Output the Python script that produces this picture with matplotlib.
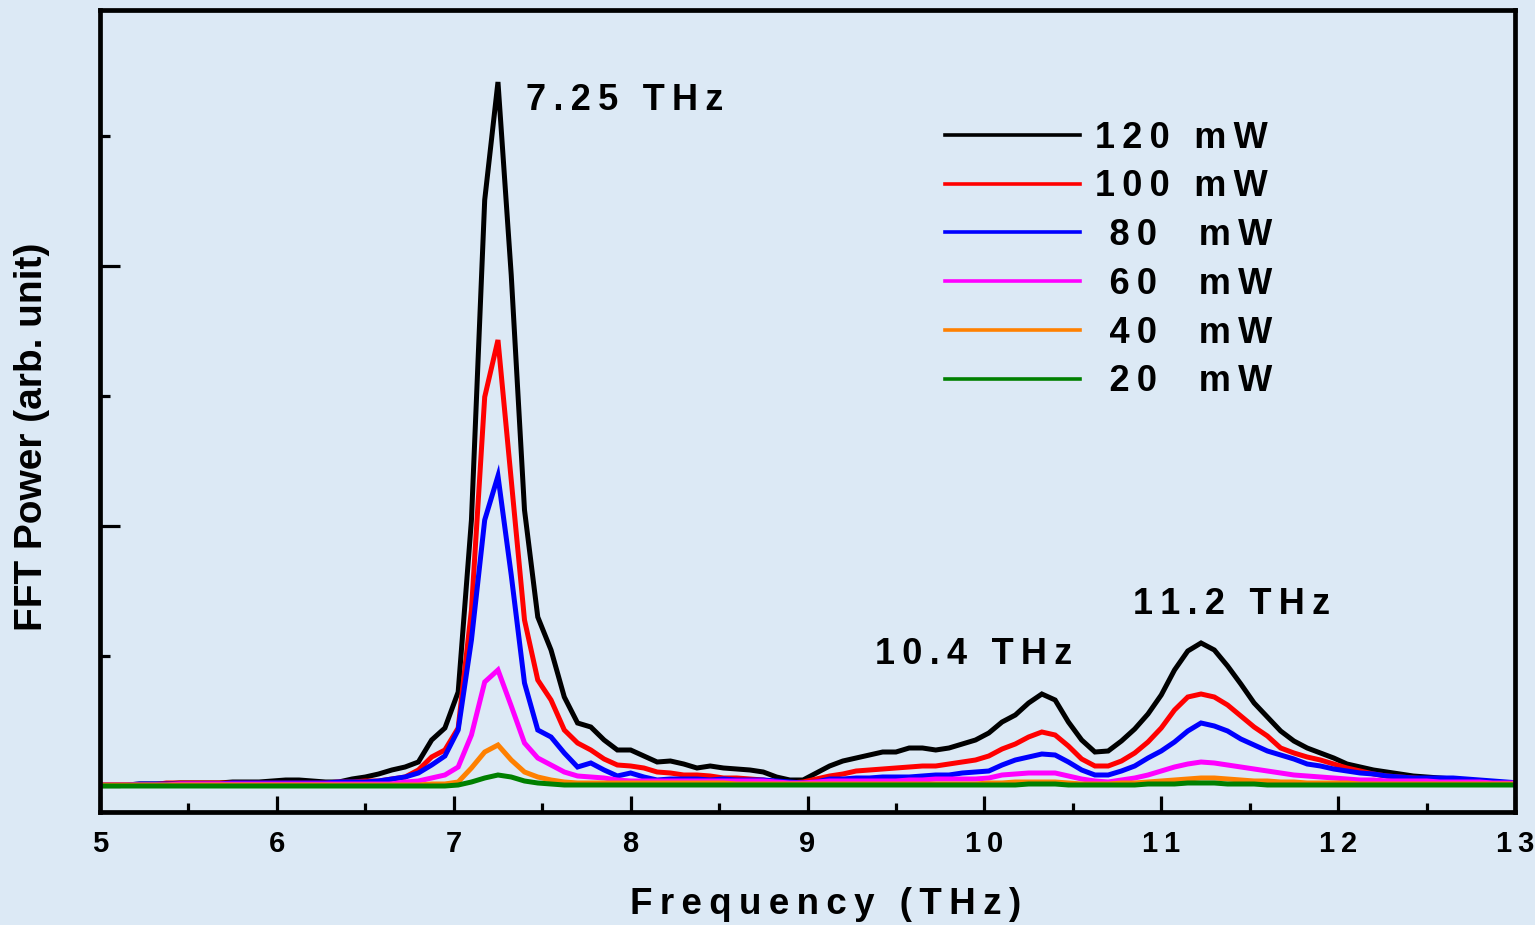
import numpy as np
import matplotlib
matplotlib.use("Agg")
import matplotlib.pyplot as plt
from matplotlib.ticker import MultipleLocator

# ---------------------- data ----------------------

# FFT frequency grid, THz
freq = np.round(5.0 + 0.075 * np.arange(108), 3)

# FFT power, arb. unit
p120 = [1, 1, 1, 2, 2, 2, 3, 3, 3, 3,
        4, 4, 4, 5, 6, 6, 5, 4, 4, 7,
        9, 12, 16, 19, 24, 46, 58, 94, 266, 586,
        704, 511, 276, 169, 136, 89, 63, 59, 46, 36,
        36, 30, 24, 25, 22, 18, 20, 18, 17, 16,
        14, 9, 6, 6, 13, 20, 25, 28, 31, 34,
        34, 38, 38, 36, 38, 42, 46, 53, 64, 71,
        83, 92, 86, 64, 46, 34, 35, 45, 57, 72,
        91, 116, 135, 143, 136, 120, 102, 83, 69, 55,
        45, 38, 33, 28, 22, 19, 16, 14, 12, 10,
        9, 8, 7, 6, 5, 4, 3, 2]
p100 = [1, 1, 1, 1, 1, 3, 3, 3, 3, 3,
        3, 3, 3, 3, 3, 3, 3, 3, 4, 4,
        5, 5, 7, 9, 16, 29, 36, 58, 176, 389,
        446, 306, 166, 106, 86, 56, 43, 36, 27, 21,
        20, 18, 14, 13, 11, 11, 10, 8, 8, 7,
        6, 4, 3, 4, 7, 10, 12, 15, 16, 17,
        18, 19, 20, 20, 22, 24, 26, 30, 37, 42,
        49, 54, 51, 40, 27, 20, 20, 25, 33, 44,
        58, 76, 89, 92, 89, 81, 70, 59, 50, 38,
        33, 29, 26, 22, 18, 15, 12, 10, 9, 8,
        7, 7, 6, 6, 5, 4, 3, 3]
p80 = [1, 1, 1, 2, 2, 2, 2, 2, 2, 2,
       3, 3, 3, 3, 3, 3, 3, 3, 4, 4,
       4, 5, 7, 9, 13, 21, 30, 56, 146, 266,
       310, 211, 103, 56, 49, 33, 19, 23, 16, 10,
       13, 9, 6, 7, 7, 7, 6, 7, 6, 6,
       6, 5, 4, 3, 4, 7, 7, 8, 8, 9,
       9, 9, 10, 11, 11, 13, 14, 15, 21, 26,
       29, 32, 31, 24, 16, 11, 11, 15, 20, 28,
       35, 44, 55, 63, 60, 55, 47, 41, 35, 31,
       27, 22, 20, 17, 15, 13, 12, 10, 9, 8,
       8, 8, 8, 7, 6, 5, 4, 3]
p60 = [1, 1, 1, 1, 1, 1, 2, 2, 2, 2,
       2, 2, 2, 2, 2, 2, 2, 2, 2, 2,
       2, 2, 2, 4, 5, 8, 11, 19, 51, 104,
       116, 80, 43, 28, 21, 14, 10, 9, 8, 6,
       5, 5, 5, 5, 5, 5, 5, 5, 5, 5,
       5, 4, 3, 3, 4, 5, 5, 5, 5, 5,
       5, 6, 6, 7, 7, 7, 7, 8, 11, 12,
       13, 13, 13, 10, 7, 5, 4, 6, 8, 11,
       15, 19, 22, 24, 23, 21, 19, 17, 15, 13,
       11, 10, 9, 8, 7, 6, 6, 5, 5, 5,
       5, 4, 4, 4, 4, 3, 3, 3]
p40 = [1, 1, 1, 1, 1, 1, 1, 1, 1, 1,
       1, 1, 1, 1, 1, 1, 1, 1, 1, 1,
       1, 1, 1, 1, 1, 2, 2, 4, 18, 34,
       41, 26, 14, 9, 6, 4, 3, 3, 3, 3,
       3, 3, 3, 3, 3, 3, 3, 3, 2, 2,
       2, 2, 2, 2, 2, 2, 2, 2, 2, 2,
       2, 2, 2, 2, 2, 2, 2, 3, 3, 4,
       4, 4, 4, 3, 2, 2, 2, 3, 3, 4,
       5, 6, 7, 8, 8, 7, 6, 5, 5, 4,
       4, 3, 3, 3, 3, 2, 2, 2, 2, 2,
       2, 2, 2, 2, 2, 2, 2, 2]
p20 = [0, 0, 0, 0, 0, 0, 0, 0, 0, 0,
       0, 0, 0, 0, 0, 0, 0, 0, 0, 0,
       0, 0, 0, 0, 0, 0, 0, 1, 4, 8,
       11, 9, 5, 3, 2, 1, 1, 1, 1, 1,
       1, 1, 1, 1, 1, 1, 1, 1, 1, 1,
       1, 1, 1, 1, 1, 1, 1, 1, 1, 1,
       1, 1, 1, 1, 1, 1, 1, 1, 1, 1,
       2, 2, 2, 1, 1, 1, 1, 1, 1, 2,
       2, 2, 3, 3, 3, 2, 2, 2, 1, 1,
       1, 1, 1, 1, 1, 1, 1, 1, 1, 1,
       1, 1, 1, 1, 1, 1, 1, 1]

labels = ["120 mW", "100 mW", "80 mW", "60 mW", "40 mW", "20 mW"]
series = [p120, p100, p80, p60, p40, p20]
colors = ["#000000", "#ff0000", "#0000ff", "#ff00ff", "#ff8000", "#008000"]

peak_names = ["7.25 THz", "10.4 THz", "11.2 THz"]
xticks = [5, 6, 7, 8, 9, 10, 11, 12, 13]

# ---------------------- helpers ----------------------

def track(s):
    # wide letter spacing like the original figure
    return "\u2009".join(s)

def legend_text(lbl):
    num, unit = lbl.split()
    if len(num) == 2:
        return "\u2009\u2009" + track(num + "  " + unit)
    return track(num + " " + unit)

# ---------------------- plot ----------------------

plt.rcParams["font.family"] = ["Liberation Sans", "DejaVu Sans"]
plt.rcParams["font.weight"] = "bold"

bg = "#dce9f5"
fig = plt.figure(figsize=(15.35, 9.25), dpi=100, facecolor=bg)
ax = fig.add_axes([100 / 1535, 1 - 812 / 925, 1415 / 1535, 802 / 925])
ax.set_facecolor(bg)

for lbl, vals, c in zip(labels, series, colors):
    ax.plot(freq, vals, color=c, lw=3.6, label=legend_text(lbl),
            solid_joinstyle="miter")

ax.set_xlim(5, 13)
ax.set_ylim(-26, 776)

ax.set_xticks(xticks)
ax.set_xticklabels([track(str(t)) for t in xticks])
ax.xaxis.set_minor_locator(MultipleLocator(0.5))
ax.yaxis.set_major_locator(MultipleLocator(260))
ax.yaxis.set_minor_locator(MultipleLocator(130))
ax.set_yticklabels([])

ax.tick_params(axis="x", which="major", direction="in", length=11.5, width=2.3,
               labelsize=21, pad=13)
ax.tick_params(axis="x", which="minor", direction="in", length=6.5, width=2.3)
ax.tick_params(axis="y", which="major", direction="in", length=14.5, width=2.3)
ax.tick_params(axis="y", which="minor", direction="in", length=7, width=2.3)
for lab in ax.get_xticklabels():
    lab.set_fontweight("bold")

for s in ax.spines.values():
    s.set_linewidth(3.4)

ax.set_xlabel(track("Frequency (THz)"), fontsize=26.5, fontweight="bold")
ax.xaxis.set_label_coords(0.513, -0.094)
ax.set_ylabel("FFT Power (arb. unit)", fontsize=28, fontweight="bold")
ax.yaxis.set_label_coords(-0.035, 0.468)

# peak annotations
ax.text(7.41, 686, track(peak_names[0]), fontsize=26, fontweight="bold",
        ha="left", va="center")
ax.text(9.38, 131, track(peak_names[1]), fontsize=26, fontweight="bold",
        ha="left", va="center")
ax.text(10.84, 182, track(peak_names[2]), fontsize=26, fontweight="bold",
        ha="left", va="center")

leg = ax.legend(loc="upper left", bbox_to_anchor=(0.597, 0.862), frameon=False,
                fontsize=26, handlelength=3.75, handletextpad=0.42,
                labelspacing=0.38, borderpad=0, borderaxespad=0)
for h in leg.get_lines():
    h.set_linewidth(2.6)

fig.savefig("out.png", dpi=100, facecolor=bg)
